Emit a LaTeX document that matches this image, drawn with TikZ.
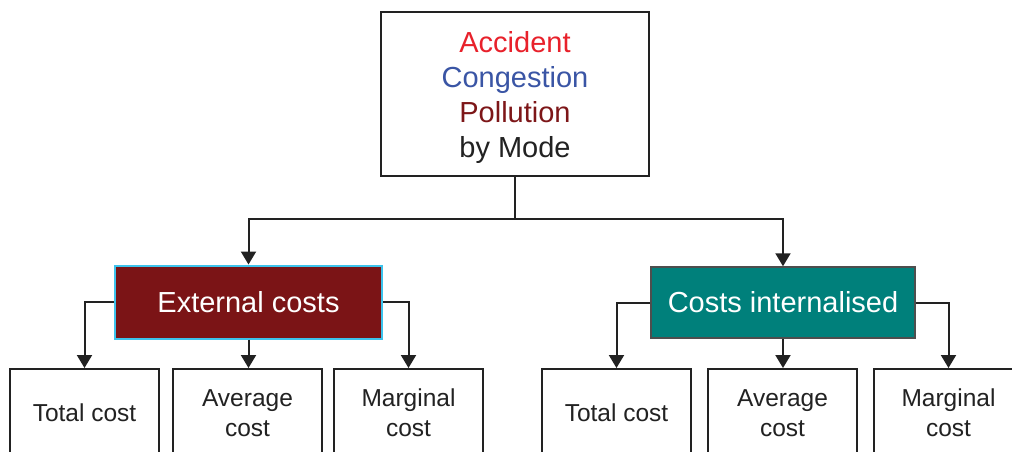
\documentclass[tikz,border=0pt]{standalone}
\usepackage{fontspec}
\setmainfont{Liberation Sans}
\usetikzlibrary{arrows.meta}
\definecolor{accred}{HTML}{E8212B}
\definecolor{congblue}{HTML}{3A55A5}
\definecolor{pollred}{HTML}{7D1618}
\definecolor{extfill}{HTML}{7B1416}
\definecolor{extborder}{HTML}{3DC3EC}
\definecolor{intfill}{HTML}{00807B}
\definecolor{linegray}{HTML}{222222}
\begin{document}
\begin{tikzpicture}[x=1pt,y=-1pt,
  box/.style={draw=linegray,line width=2pt,fill=white,inner sep=0pt,align=center},
  bigtext/.style={font=\fontsize{29}{35}\selectfont},
  smalltext/.style={font=\fontsize{24.5}{30}\selectfont,text=linegray},
  leaf/.style={box,smalltext,minimum width=149,minimum height=88},
  conn/.style={draw=linegray,line width=2pt},
  arr/.style={conn,-{Triangle[width=15pt,length=13pt]}}]
\useasboundingbox (0,0) rectangle (1012,452);
\clip (0,0) rectangle (1012,452);
\node[box,minimum width=268,minimum height=164] (top) at (515,94) {};
\node[bigtext,align=center,inner sep=0pt] (toptext) at (515,97.5)
  {\textcolor{accred}{Accident}\\\textcolor{congblue}{Congestion}\\\textcolor{pollred}{Pollution}\\\textcolor{linegray}{by Mode}};
\node[box,bigtext,draw=extborder,fill=extfill,text=white,minimum width=267,minimum height=73] (ext) at (248.5,302) {External costs};
\node[box,bigtext,draw=linegray!80,line width=1.5pt,fill=intfill,text=white,minimum width=264,minimum height=71] (int) at (783,302.5) {Costs internalised};
\node[leaf] (b1) at (84.5,413) {Total cost};
\node[leaf] (b2) at (247.5,413) {Average\\cost};
\node[leaf] (b3) at (408.5,413) {Marginal\\cost};
\node[leaf] (b4) at (616.5,413) {Total cost};
\node[leaf] (b5) at (782.5,413) {Average\\cost};
\node[leaf] (b6) at (948.5,413) {Marginal\\cost};
\coordinate (split) at (515,219);
\draw[conn] (top.south) -- (split);
\draw[arr] (split) -| (ext.north);
\draw[arr] (split) -| (int.north);
\draw[arr] (ext.west) -| (b1.north);
\draw[arr] (ext.south) -- (ext.south |- b2.north);
\draw[arr] (ext.east) -| (b3.north);
\draw[arr] (int.west) -| (b4.north);
\draw[arr] (int.south) -- (int.south |- b5.north);
\draw[arr] (int.east) -| (b6.north);
\end{tikzpicture}
\end{document}
